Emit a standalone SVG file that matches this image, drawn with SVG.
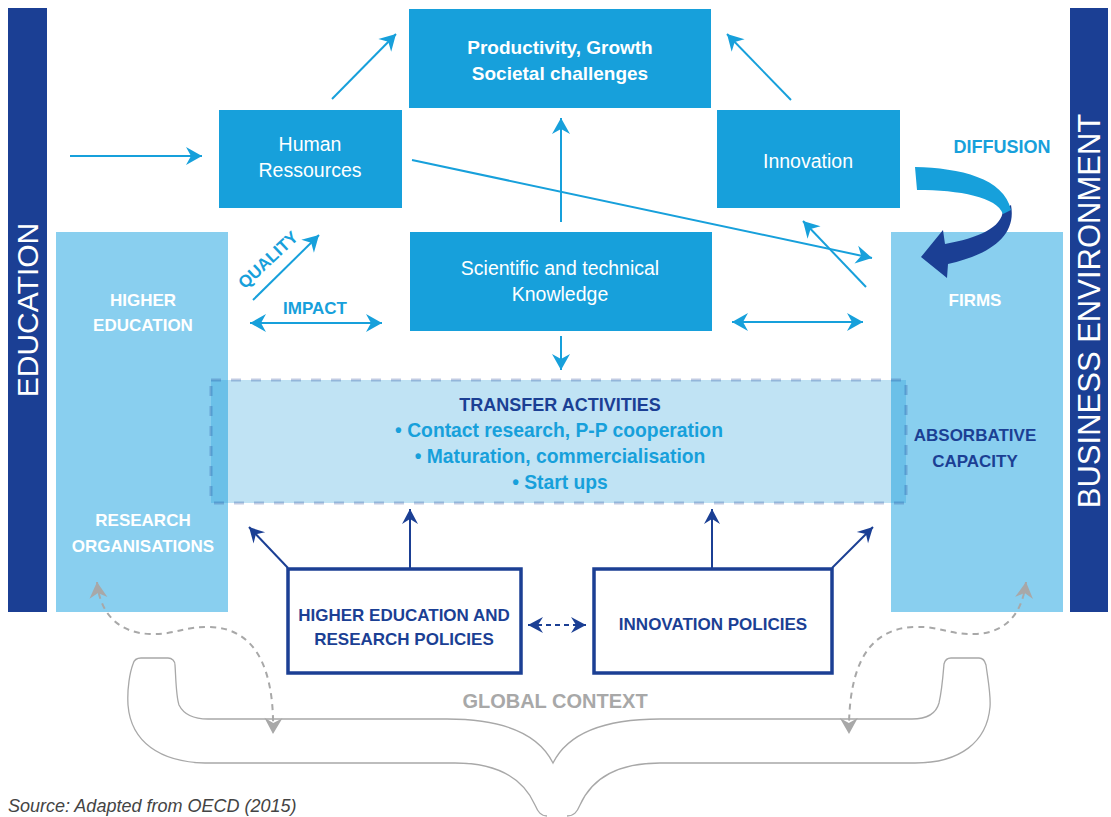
<svg xmlns="http://www.w3.org/2000/svg" width="1111" height="817" viewBox="0 0 1111 817">
<style>
text{font-family:"Liberation Sans",Arial,sans-serif}
.box{fill:#17a0db}
.col{fill:#89cfef}
.bar{fill:#1b3f94}
.wt{fill:#fff;font-size:19.5px;text-anchor:middle}
.wb{fill:#fff;font-size:19px;font-weight:bold;text-anchor:middle}
.cap{fill:#fff;font-size:17px;font-weight:bold;text-anchor:middle}
.dcap{fill:#1b3f94;font-size:17px;font-weight:bold;text-anchor:middle}
.lb{fill:#17a0db;font-size:17.5px;font-weight:bold;text-anchor:middle}
.vt{fill:#fff;font-size:30px;text-anchor:middle}
.lc{stroke:#17a0db;stroke-width:2;fill:none}
.dc{stroke:#1b3f94;stroke-width:2;fill:none}
.gc{stroke:#a8a8a8;stroke-width:2;stroke-dasharray:6 5;fill:none}
.pol{fill:#fff;stroke:#1b3f94;stroke-width:3.5}
</style>
<defs>
<marker id="al" markerUnits="userSpaceOnUse" markerWidth="20" markerHeight="20" viewBox="-17 -10 18 20" refX="0" refY="0" orient="auto-start-reverse">
<path d="M0,0 L-16,-9 L-11,0 L-16,9 Z" fill="#17a0db"/>
</marker>
<marker id="ad" markerUnits="userSpaceOnUse" markerWidth="20" markerHeight="20" viewBox="-17 -10 18 20" refX="0" refY="0" orient="auto-start-reverse">
<path d="M0,0 L-15,-8 L-10,0 L-15,8 Z" fill="#1b3f94"/>
</marker>
<marker id="ag" markerUnits="userSpaceOnUse" markerWidth="20" markerHeight="20" viewBox="-17 -10 18 20" refX="0" refY="0" orient="auto-start-reverse">
<path d="M0,0 L-16,-9 L-11,0 L-16,9 Z" fill="#a8a8a8"/>
</marker>
</defs>

<g id="education">
<rect class="bar" x="8" y="8" width="39" height="604"/>
<text class="vt" transform="translate(38,310) rotate(-90)">EDUCATION</text>
</g>
<g id="business-environment">
<rect class="bar" x="1070" y="8" width="38" height="604"/>
<text class="vt" transform="translate(1100,311) rotate(-90)" style="font-size:31px">BUSINESS ENVIRONMENT</text>
</g>

<g id="higher-education">
<rect class="col" x="56" y="232" width="172" height="380"/>
<text class="cap" x="143" y="306">HIGHER</text>
<text class="cap" x="143" y="331">EDUCATION</text>
<text class="cap" x="143" y="526">RESEARCH</text>
<text class="cap" x="143" y="552">ORGANISATIONS</text>
</g>
<g id="firms">
<rect class="col" x="891" y="232" width="172" height="380"/>
<text class="cap" x="975" y="306">FIRMS</text>
<text class="dcap" x="975" y="441">ABSORBATIVE</text>
<text class="dcap" x="975" y="467">CAPACITY</text>
</g>

<g id="productivity">
<rect class="box" x="409" y="9" width="302" height="99"/>
<text class="wb" x="560" y="54">Productivity, Growth</text>
<text class="wb" x="560" y="80">Societal challenges</text>
</g>
<g id="human-ressources">
<rect class="box" x="219" y="110" width="183" height="98"/>
<text class="wt" x="310" y="151">Human</text>
<text class="wt" x="310" y="177">Ressources</text>
</g>
<g id="innovation">
<rect class="box" x="717" y="110" width="183" height="98"/>
<text class="wt" x="808" y="168">Innovation</text>
</g>
<g id="knowledge">
<rect class="box" x="410" y="232" width="302" height="99"/>
<text class="wt" x="560" y="275">Scientific and technical</text>
<text class="wt" x="560" y="301">Knowledge</text>
</g>

<g id="transfer-activities">
<rect x="211" y="380" width="695" height="123" fill="#1c9ad6" fill-opacity="0.28" stroke="#1b3f94" stroke-opacity="0.27" stroke-width="3" stroke-dasharray="10 10"/>
<text class="dcap" x="560" y="411" style="font-size:18px">TRANSFER ACTIVITIES</text>
<text class="lb" x="559" y="437" style="font-size:19.3px">• Contact research, P-P cooperation</text>
<text class="lb" x="560" y="463" style="font-size:19.3px">• Maturation, commercialisation</text>
<text class="lb" x="560" y="489" style="font-size:19.3px">• Start ups</text>
</g>

<g id="he-research-policies">
<rect class="pol" x="288" y="569" width="233" height="104"/>
<text class="dcap" x="404" y="621">HIGHER EDUCATION AND</text>
<text class="dcap" x="404" y="645">RESEARCH POLICIES</text>
</g>
<g id="innovation-policies">
<rect class="pol" x="594" y="569" width="238" height="104"/>
<text class="dcap" x="713" y="630">INNOVATION POLICIES</text>
</g>

<g id="diffusion">
<path d="M1011,205 C1017,237 988,255 948,264 L947,278 L921,257 L943,230 L945,244 C978,238 1002,228 1003,210 Z" fill="#1b3f94"/>
<path d="M915,167 C960,168 1004,178 1011,210 L1003,214 C997,197 960,190 917,190 Z" fill="#17a0db"/>
<text class="lb" x="1002" y="153" style="font-size:18px">DIFFUSION</text>
</g>

<g id="global-context">
<path d="M547,816 C541,816 538,812 535,805 C522,776 495,763 455,763 L205,763 C160,762 131,742 128,705 C127,688 130,672 133,664 C134,660 137,658 141,658 L168,658 C172,658 175,661 175,665 C176,680 176,696 179,705 C184,715 193,719 208,719 L447,719 C500,719 538,733 553,763 C568,733 606,719 660,719 L912,719 C926,719 936,714 939,703 C942,690 943,676 944,664 C945,660 947,658 951,658 L979,658 C983,658 985,661 986,665 C988,680 991,695 990,707 C987,742 960,763 915,763 L660,763 C620,763 593,776 580,805 C577,812 574,816 567,816" fill="none" stroke="#a8a8a8" stroke-width="1.3"/>
<text x="555" y="708" fill="#a8a8a8" font-size="20" font-weight="bold" text-anchor="middle">GLOBAL CONTEXT</text>
</g>

<g id="connectors">
<line class="lc" x1="70" y1="156" x2="202" y2="156" marker-end="url(#al)"/>
<line class="lc" x1="332" y1="99" x2="396" y2="34" marker-end="url(#al)"/>
<line class="lc" x1="791" y1="100" x2="727" y2="34" marker-end="url(#al)"/>
<line class="lc" x1="561" y1="222" x2="561" y2="118" marker-end="url(#al)"/>
<line class="lc" x1="561" y1="336" x2="561" y2="370" marker-end="url(#al)"/>
<line class="lc" x1="412" y1="160" x2="872" y2="258" marker-end="url(#al)"/>
<line class="lc" x1="866" y1="287" x2="803" y2="221" marker-end="url(#al)"/>
<line class="lc" x1="732" y1="322" x2="863" y2="322" marker-start="url(#al)" marker-end="url(#al)"/>
<line class="lc" x1="253" y1="300" x2="319" y2="235" marker-end="url(#al)"/>
<line class="lc" x1="250" y1="323" x2="382" y2="323" marker-start="url(#al)" marker-end="url(#al)"/>
<text class="lb" x="315" y="314" style="font-size:17px">IMPACT</text>
<text class="lb" transform="translate(272,264) rotate(-43)" style="font-size:17px">QUALITY</text>
<line class="dc" x1="288" y1="568" x2="249" y2="527" marker-end="url(#ad)"/>
<line class="dc" x1="410" y1="568" x2="410" y2="509" marker-end="url(#ad)"/>
<line class="dc" x1="712" y1="568" x2="712" y2="509" marker-end="url(#ad)"/>
<line class="dc" x1="832" y1="568" x2="873" y2="527" marker-end="url(#ad)"/>
<line class="dc" x1="528" y1="625" x2="586" y2="625" stroke-dasharray="5 4" marker-start="url(#ad)" marker-end="url(#ad)"/>
<path class="gc" d="M97,582 C100,615 120,633 150,634 C175,635 185,626 210,627 C250,628 275,660 273,734" marker-start="url(#ag)" marker-end="url(#ag)"/>
<path class="gc" d="M1026,582 C1022,615 1005,633 975,634 C950,635 940,626 915,627 C872,628 848,660 849,734" marker-start="url(#ag)" marker-end="url(#ag)"/>
</g>

<text x="8" y="812" fill="#444" font-size="18" font-style="italic">Source: Adapted from OECD (2015)</text>
</svg>
